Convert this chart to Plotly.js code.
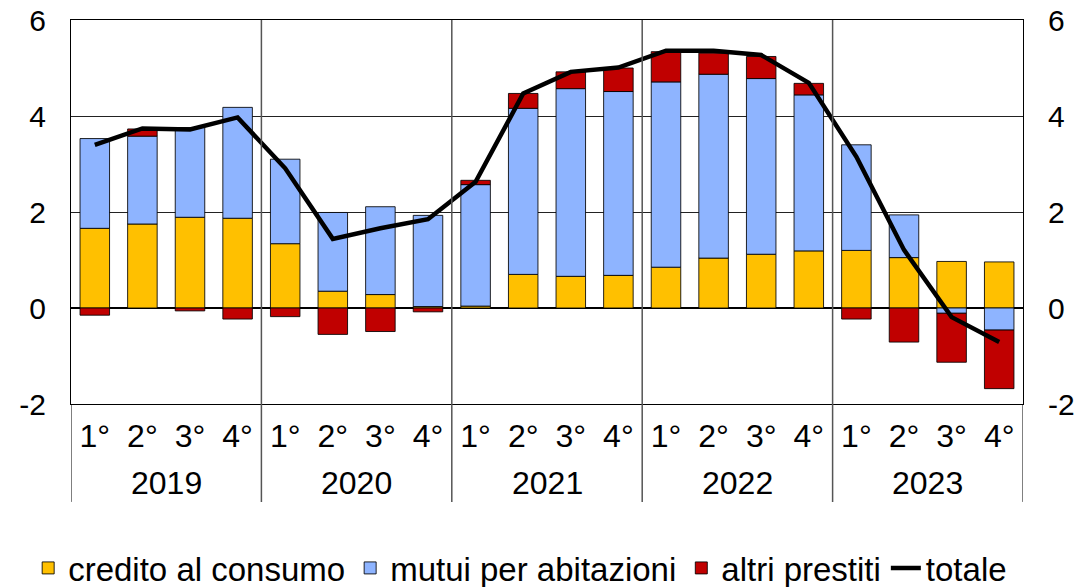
<!DOCTYPE html>
<html>
<head>
<meta charset="utf-8">
<script src="https://cdn.plot.ly/plotly-3.0.1.min.js"></script>
<style>html,body{margin:0;padding:0;background:#fff;}#chart{width:1084px;height:587px;}</style>
</head>
<body>
<div id="chart"></div>
<script>
const years = ['2019','2020','2021','2022','2023'];
const quarterLabels = ['1°','2°','3°','4°'];
const yTickVals = [-2,0,2,4,6];
const yTickText = ['-2','0','2','4','6'];
const credito = [1.66,1.75,1.89,1.87, 1.34,0.35,0.28,0.03, 0.04,0.70,0.66,0.68, 0.85,1.04,1.12,1.19, 1.20,1.05,0.97,0.96];
const mutui   = [1.87,1.83,1.87,2.31, 1.76,1.64,1.83,1.90, 2.53,3.46,3.91,3.83, 3.86,3.83,3.66,3.25, 2.20,0.89,-0.11,-0.46];
const altri   = [-0.15,0.15,-0.06,-0.23, -0.18,-0.55,-0.49,-0.08, 0.09,0.31,0.35,0.49, 0.63,0.44,0.46,0.24, -0.23,-0.71,-1.02,-1.22];
const totale  = [3.40,3.74,3.72,3.97, 2.91,1.44,1.66,1.85, 2.63,4.47,4.92,5.01, 5.36,5.36,5.27,4.69, 3.15,1.21,-0.19,-0.71];

const x = [];
const ticktext = [];
years.forEach((y, yi) => quarterLabels.forEach((q, qi) => { x.push(yi*4+qi); ticktext.push(q); }));

const FONT = 'Liberation Sans, Arial, sans-serif';
const FS = 32;
const outline = {color: 'rgba(0,0,0,0.85)', width: 1};

const traces = [
  {type:'bar', name:'credito al consumo', x:x, y:credito, marker:{color:'#FFC000', line:outline}, width:0.62},
  {type:'bar', name:'mutui per abitazioni', x:x, y:mutui, marker:{color:'#8EB4FF', line:outline}, width:0.62},
  {type:'bar', name:'altri prestiti', x:x, y:altri, marker:{color:'#C00000', line:outline}, width:0.62},
  {type:'scatter', mode:'lines', name:'totale', x:x, y:totale, yaxis:'y2', line:{color:'#000', width:4.5}}
];

const shapes = [];
for (let i = 0; i <= years.length; i++) {
  const xv = i*4 - 0.5;
  const edge = (i===0||i===years.length);
  shapes.push({type:'line', xref:'x', yref:'paper', x0:xv, x1:xv, y0:-0.255, y1: edge?0:1,
    line:{color: edge?'#000':'#555', width: edge?1:1.5}});
}
const annotations = years.map((y, i) => ({
  text: y, xref:'x', yref:'paper', x: i*4+1.5, y: -0.206, yanchor:'middle', showarrow:false,
  font:{family:FONT, size:FS, color:'#000'}
}));

const yax = {
  range:[-2,6], tickvals:yTickVals, ticktext:yTickText, ticks:'', showgrid:true, gridcolor:'#222', gridwidth:1,
  zeroline:true, zerolinecolor:'#000', zerolinewidth:1.2, showline:true, linecolor:'#000', linewidth:1,
  tickfont:{family:FONT, size:30, color:'#000'}, fixedrange:true, ticklabelstandoff:18
};

const layout = {
  width:1084, height:587,
  margin:{l:71, r:61, t:20, b:183, autoexpand:false},
  paper_bgcolor:'#fff', plot_bgcolor:'#fff',
  barmode:'relative', showlegend:true,
  font:{family:FONT, size:FS, color:'#000'},
  xaxis:{range:[-0.5,19.5], tickvals:x, ticktext:ticktext, ticks:'', showgrid:false, zeroline:false,
    showline:true, linecolor:'#000', linewidth:1, mirror:true, tickfont:{family:FONT, size:FS, color:'#000'}, ticklabelstandoff:4},
  yaxis: Object.assign({}, yax, {side:'left'}),
  yaxis2: Object.assign({}, yax, {side:'right', overlaying:'y', showgrid:false, zeroline:false}),
  legend:{orientation:'h', x:-0.045, xanchor:'left', y:-0.427, yanchor:'middle',
    font:{family:FONT, size:33, color:'#000'}, traceorder:'normal', itemwidth:30, tracegroupgap:0},
  shapes:shapes, annotations:annotations
};

Plotly.newPlot('chart', traces, layout, {displayModeBar:false, staticPlot:true});
</script>
</body>
</html>
